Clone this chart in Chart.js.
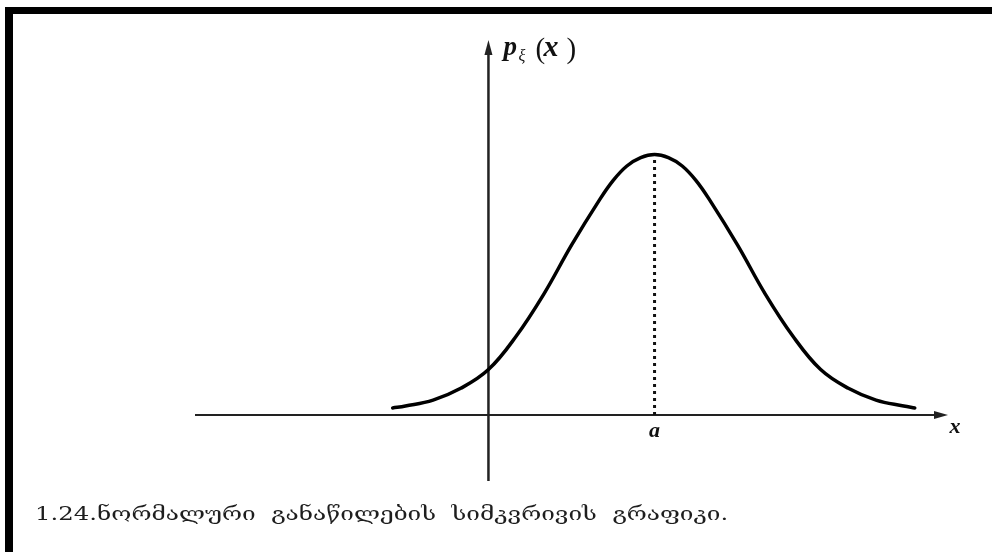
<!DOCTYPE html>
<html>
<head>
<meta charset="utf-8">
<script src="https://cdn.jsdelivr.net/npm/chart.js@4"></script>
<style>
    html, body { margin: 0; padding: 0; background: #fff; }
    #wrap { position: relative; width: 992px; height: 552px; overflow: hidden; }
    #frame { position: absolute; left: 5px; top: 7px; right: 0; bottom: 0; border-top: 7px solid #000; border-left: 8px solid #000; }
    #plot { position: absolute; left: 0; top: 0; }
    #caption { position: absolute; left: 35px; top: 502px; font-family: 'DejaVu Serif', serif; font-size: 19px; color: #1e1e1e; white-space: pre; transform-origin: 0 0; }
</style>
</head>
<body>
<div id="wrap">
    <div id="frame"></div>
    <canvas id="plot" width="992" height="552"></canvas>
    <div id="caption">1.24.ნორმალური  განაწილების  სიმკვრივის  გრაფიკი.</div>
</div>
<script>
// ========== DATA ==========
// density curve with mean a = 3
const xVals = [-1.73, -1.5, -1.0, -0.5, 0, 0.5, 1.0, 1.5, 2.0, 2.25, 2.5, 2.75, 3.0,
               3.25, 3.5, 3.75, 4.0, 4.5, 5.0, 5.5, 6.0, 6.5, 7.0, 7.5, 7.7];
const densVals = [0.0066, 0.0085, 0.0142, 0.0255, 0.0435, 0.0755, 0.116, 0.163, 0.206, 0.225, 0.239, 0.247, 0.25,
                  0.247, 0.239, 0.225, 0.206, 0.163, 0.116, 0.0755, 0.0435, 0.0255, 0.0142, 0.0085, 0.0066];
const meanA = 3;
const peakDens = 0.25;

// axis ranges
const xRange = [-5.3, 8.3];
const yRange = [-0.0635, 0.36];

// caption width in px
const captionWidth = 693;

const curvePts = xVals.map((x, i) => ({ x: x, y: densVals[i] }));
const meanLine = [{ x: meanA, y: 0 }, { x: meanA, y: peakDens }];

// stretch the caption to its full width (the Georgian glyphs are wide)
const cap = document.getElementById('caption');
const capW = cap.getBoundingClientRect().width;
cap.style.transform = 'scaleX(' + (captionWidth / capW).toFixed(3) + ')';

// ========== AXES + LABELS ==========
const axesPlugin = {
    id: 'axesPlugin',
    beforeDatasetsDraw(chart) {
        const { ctx, chartArea: a, scales } = chart;
        const y0 = scales.y.getPixelForValue(0);
        const x0 = scales.x.getPixelForValue(0);
        ctx.save();
        ctx.strokeStyle = '#222';
        ctx.fillStyle = '#222';
        ctx.lineWidth = 2;

        // horizontal axis
        ctx.beginPath();
        ctx.moveTo(a.left, y0);
        ctx.lineTo(a.right - 6, y0);
        ctx.stroke();
        ctx.beginPath();
        ctx.moveTo(a.right, y0);
        ctx.lineTo(a.right - 14, y0 - 4);
        ctx.lineTo(a.right - 14, y0 + 4);
        ctx.closePath();
        ctx.fill();

        // vertical axis
        ctx.lineWidth = 2.5;
        ctx.beginPath();
        ctx.moveTo(x0, a.bottom);
        ctx.lineTo(x0, a.top + 6);
        ctx.stroke();
        ctx.beginPath();
        ctx.moveTo(x0, a.top);
        ctx.lineTo(x0 - 4, a.top + 15);
        ctx.lineTo(x0 + 4, a.top + 15);
        ctx.closePath();
        ctx.fill();
        ctx.restore();
    },
    afterDraw(chart) {
        const { ctx, chartArea: a, scales } = chart;
        const y0 = scales.y.getPixelForValue(0);
        const x0 = scales.x.getPixelForValue(0);
        const xa = scales.x.getPixelForValue(meanA);
        ctx.save();
        ctx.fillStyle = '#111';
        ctx.textBaseline = 'alphabetic';

        // p_ξ (x)
        ctx.textAlign = 'left';
        ctx.font = 'italic bold 27px "Liberation Serif", serif';
        ctx.fillText('p', x0 + 15, a.top + 15);
        ctx.font = 'italic 16px "Liberation Serif", serif';
        ctx.fillText('ξ', x0 + 30, a.top + 21);
        ctx.font = '29px "Liberation Serif", serif';
        ctx.fillText('(', x0 + 47, a.top + 18);
        ctx.font = 'italic bold 30px "Liberation Serif", serif';
        ctx.fillText('x', x0 + 55, a.top + 16);
        ctx.font = '29px "Liberation Serif", serif';
        ctx.fillText(')', x0 + 78, a.top + 18);

        // a under the mean
        ctx.textAlign = 'center';
        ctx.font = 'italic bold 22px "Liberation Serif", serif';
        ctx.fillText('a', xa, y0 + 22);

        // x at the axis end
        ctx.fillText('x', a.right + 7, y0 + 18);
        ctx.restore();
    }
};

// ========== CHART ==========
new Chart(document.getElementById('plot'), {
    type: 'scatter',
    data: {
        datasets: [
            {
                data: curvePts,
                showLine: true,
                borderColor: '#000',
                borderWidth: 3.5,
                pointRadius: 0,
                tension: 0.4,
                borderCapStyle: 'round'
            },
            {
                data: meanLine,
                showLine: true,
                borderColor: '#111',
                borderWidth: 3,
                borderDash: [3, 4],
                pointRadius: 0
            }
        ]
    },
    options: {
        responsive: false,
        devicePixelRatio: 1,
        animation: false,
        layout: { padding: { left: 195, right: 44, top: 40, bottom: 71 } },
        plugins: { legend: { display: false }, tooltip: { enabled: false } },
        scales: {
            x: { type: 'linear', min: xRange[0], max: xRange[1], display: false },
            y: { type: 'linear', min: yRange[0], max: yRange[1], display: false }
        }
    },
    plugins: [axesPlugin]
});
</script>
</body>
</html>
